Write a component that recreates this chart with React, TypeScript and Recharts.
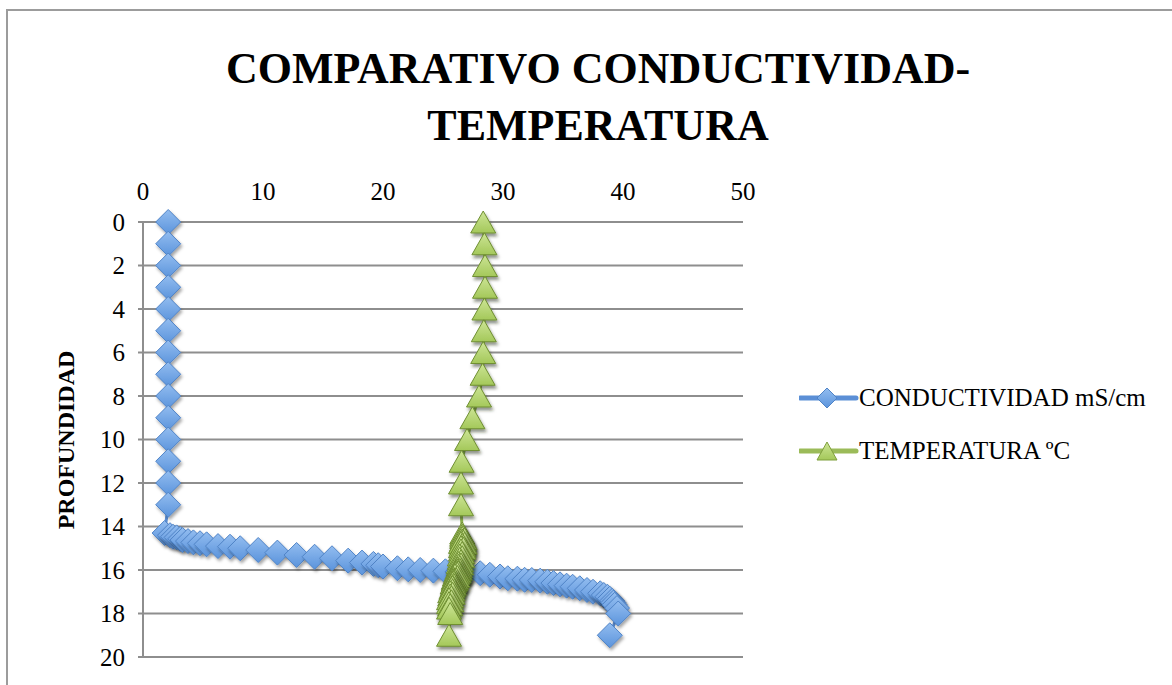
import React from 'react';
import { ScatterChart, Scatter, XAxis, YAxis, CartesianGrid } from 'recharts';

// profundidad (m) de cada lectura
const profundidad = [
  0, 1, 2, 3, 4, 5, 6, 7, 8, 9, 10, 11, 12, 13,
  14.3, 14.4, 14.47, 14.5, 14.57, 14.62, 14.67, 14.73, 14.77, 14.82,
  14.9, 14.93, 15.0, 15.08, 15.2, 15.31, 15.39, 15.46, 15.57, 15.66,
  15.72, 15.78, 15.84, 15.92, 15.97, 16.0, 16.03, 16.06, 16.09, 16.12,
  16.15, 16.22, 16.3, 16.38, 16.4, 16.45, 16.46, 16.49, 16.54, 16.6,
  16.66, 16.72, 16.77, 16.84, 16.92, 17.0, 17.07, 17.15, 17.23, 17.32,
  17.42, 17.5, 17.6, 17.75, 18, 19,
];

const conductividad = [
  2.1, 2.1, 2.1, 2.1, 2.1, 2.1, 2.1, 2.1, 2.1, 2.1, 2.1, 2.1, 2.1, 2.1,
  1.8, 2.25, 2.5, 2.8, 3.1, 3.3, 3.75, 4.2, 4.75, 5.3,
  6.25, 7.25, 8.1, 9.6, 11.2, 12.8, 14.3, 15.75, 17.1, 18.25,
  19.2, 19.6, 20.0, 21.2, 22.1, 23.1, 24.2, 25.2, 26.2, 27.1,
  28.1, 28.9, 29.75, 30.4, 31.2, 31.8, 32.4, 33.1, 33.7, 34.2,
  34.75, 35.3, 35.8, 36.4, 37.0, 37.5, 38.1, 38.4, 38.7, 38.9,
  39.1, 39.2, 39.3, 39.5, 39.6, 38.9,
];

const temperatura = [
  28.35, 28.45, 28.5, 28.5, 28.45, 28.4, 28.35, 28.3, 28.0, 27.45, 27.0, 26.55, 26.5, 26.5,
  26.6, 26.6, 26.7, 26.6, 26.8, 26.6, 26.7, 26.5, 26.8, 26.6,
  26.7, 26.5, 26.7, 26.5, 26.6, 26.4, 26.6, 26.4, 26.5, 26.3,
  26.5, 26.3, 26.4, 26.2, 26.4, 26.2, 26.3, 26.1, 26.3, 26.1,
  26.2, 26.0, 26.2, 25.9, 26.1, 25.9, 26.0, 25.9, 25.9, 25.8,
  25.9, 25.8, 25.8, 25.7, 25.8, 25.6, 25.8, 25.6, 25.7, 25.5,
  25.7, 25.5, 25.6, 25.5, 25.6, 25.5,
];

const xTicks = [0, 10, 20, 30, 40, 50];
const yTicks = [0, 2, 4, 6, 8, 10, 12, 14, 16, 18, 20];

const condData = profundidad.map((p, i) => ({ x: conductividad[i], y: p }));
const tempData = profundidad.map((p, i) => ({ x: temperatura[i], y: p }));

const FONT = '"Liberation Serif", "DejaVu Serif", serif';
const GRID = '#8e8e8e';

const Diamond = (props: any) => {
  const { cx, cy } = props;
  const r = 12.5;
  return (
    <polygon
      points={`${cx},${cy - r} ${cx + r},${cy} ${cx},${cy + r} ${cx - r},${cy}`}
      fill="url(#gBlue)"
      stroke="#4f83c6"
      strokeWidth={1}
      filter="url(#shadow)"
    />
  );
};

const Triangle = (props: any) => {
  const { cx, cy } = props;
  const w = 12.5;
  const h = 11;
  return (
    <polygon
      points={`${cx},${cy - h} ${cx + w},${cy + h} ${cx - w},${cy + h}`}
      fill="url(#gGreen)"
      stroke="#6f8f32"
      strokeWidth={1}
      filter="url(#shadowG)"
    />
  );
};

const LegendRow = ({ color, label, marker }: { color: string; label: string; marker: 'diamond' | 'triangle' }) => (
  <div style={{ display: 'flex', alignItems: 'center', height: 30 }}>
    <svg width={60} height={30}>
      <line x1={1} y1={15} x2={57} y2={15} stroke={color} strokeWidth={5} strokeLinecap="round" />
      {marker === 'diamond' ? (
        <polygon points="28,5 38,15 28,25 18,15" fill="url(#gBlue)" stroke="#4f83c6" />
      ) : (
        <polygon points="28,6 38,24 18,24" fill="url(#gGreen)" stroke="#7f9f3c" />
      )}
    </svg>
    <span style={{ fontFamily: FONT, fontSize: 25, color: '#000', whiteSpace: 'nowrap' }}>{label}</span>
  </div>
);

export default function App() {
  return (
    <div style={{ position: 'fixed', left: 0, top: 0, width: 1172, height: 685, overflow: 'hidden', background: '#fff' }}>
      <svg width={0} height={0} style={{ position: 'absolute' }}>
        <defs>
          <linearGradient id="gBlue" x1="0" y1="0" x2="0" y2="1">
            <stop offset="0%" stopColor="#93bdf0" />
            <stop offset="100%" stopColor="#5b94dc" />
          </linearGradient>
          <linearGradient id="gGreen" x1="0" y1="0" x2="0" y2="1">
            <stop offset="0%" stopColor="#cde596" />
            <stop offset="100%" stopColor="#a4c85a" />
          </linearGradient>
          <filter id="shadow" x="-50%" y="-50%" width="200%" height="200%">
            <feDropShadow dx="1.5" dy="2.5" stdDeviation="1.8" floodColor="#000" floodOpacity="0.35" />
          </filter>
          <filter id="shadowG" x="-50%" y="-50%" width="200%" height="200%">
            <feDropShadow dx="1.5" dy="3" stdDeviation="1.6" floodColor="#1d2a08" floodOpacity="0.5" />
          </filter>
        </defs>
      </svg>

      <div style={{ position: 'absolute', left: 6, top: 9, width: 1300, height: 900, border: '2px solid #9c9c9c' }} />

      <div
        style={{
          position: 'absolute', left: 0, top: 40, width: 1196, textAlign: 'center',
          fontFamily: FONT, fontWeight: 'bold', fontSize: 44, lineHeight: '57px', color: '#000',
        }}
      >
        COMPARATIVO CONDUCTIVIDAD-<br />TEMPERATURA
      </div>

      <div
        style={{
          position: 'absolute', left: 66, top: 440, transform: 'translate(-50%, -50%) rotate(-90deg)',
          fontFamily: FONT, fontWeight: 'bold', fontSize: 24, whiteSpace: 'nowrap', color: '#000',
        }}
      >
        PROFUNDIDAD
      </div>

      <div style={{ position: 'absolute', left: 0, top: 0 }}>
        <ScatterChart width={1172} height={685} margin={{ top: 172, left: 73, right: 429, bottom: 28 }}>
          <CartesianGrid vertical={false} stroke={GRID} strokeWidth={2} />
          <XAxis
            type="number"
            dataKey="x"
            orientation="top"
            domain={[0, 50]}
            ticks={xTicks}
            axisLine={false}
            tickLine={false}
            height={50}
            tickMargin={16}
            tick={{ fontFamily: FONT, fontSize: 25, fill: '#000' }}
          />
          <YAxis
            type="number"
            dataKey="y"
            reversed
            domain={[0, 20]}
            ticks={yTicks}
            width={70}
            axisLine={{ stroke: GRID, strokeWidth: 2 }}
            tickLine={{ stroke: GRID, strokeWidth: 2 }}
            tickSize={5}
            tickMargin={13}
            tick={{ fontFamily: FONT, fontSize: 25, fill: '#000' }}
          />
          <Scatter
            name="CONDUCTIVIDAD mS/cm"
            data={condData}
            line={{ stroke: '#5b8fd6', strokeWidth: 3 }}
            lineType="joint"
            shape={Diamond}
            isAnimationActive={false}
          />
          <Scatter
            name="TEMPERATURA ºC"
            data={tempData}
            line={{ stroke: '#92b550', strokeWidth: 3 }}
            lineType="joint"
            shape={Triangle}
            isAnimationActive={false}
          />
        </ScatterChart>
      </div>

      <div style={{ position: 'absolute', left: 799, top: 383 }}>
        <LegendRow color="#5b8fd6" label="CONDUCTIVIDAD mS/cm" marker="diamond" />
      </div>
      <div style={{ position: 'absolute', left: 799, top: 436 }}>
        <LegendRow color="#9bbb59" label="TEMPERATURA ºC" marker="triangle" />
      </div>
    </div>
  );
}
